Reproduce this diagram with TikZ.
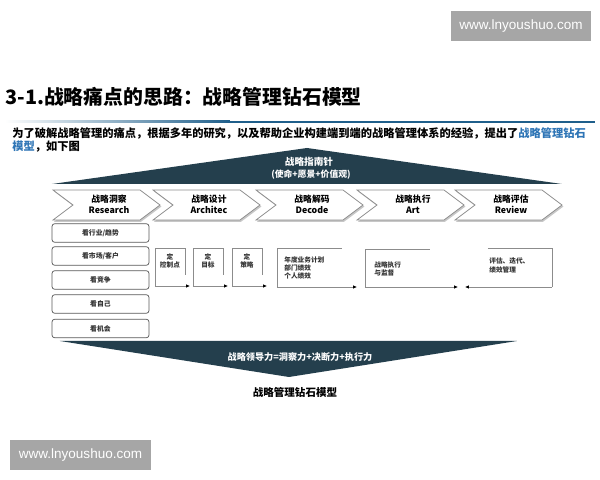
\documentclass[tikz,border=0pt]{standalone}
\usepackage{fontspec}
\setmainfont{Noto Sans CJK SC}
\newfontfamily\wmfont{Liberation Sans}
\usetikzlibrary{arrows.meta}
\usetikzlibrary{positioning}
\definecolor{diamonddark}{HTML}{243F4D}
\definecolor{titleblue}{HTML}{1F5F8B}
\definecolor{linkblue}{HTML}{2E75B6}
\definecolor{boxgray}{HTML}{8C8C8C}
\tikzset{
watermark/.style={fill=black!35,text=white,font=\wmfont\fontsize{7.7}{9}\selectfont,minimum width=2.82cm,minimum height=0.62cm,inner sep=0pt},
band/.style={fill=diamonddark,draw=none},
bandtext/.style={text=white,font=\bfseries\fontsize{5.5}{6.5}\selectfont,inner sep=0pt},
stage/.style={fill=white,draw=boxgray,line width=0.4pt},
stageshadow/.style={fill=black!22,draw=none},
stagetext/.style={font=\bfseries\fontsize{5}{6.2}\selectfont,align=center,inner sep=0pt},
lookbox/.style={draw=black!65,rounded corners=1.5pt,fill=white,minimum width=1.94cm,minimum height=0.37cm,inner sep=0pt,font=\bfseries\fontsize{3.9}{4.5}\selectfont,text=black!80},
stepline/.style={draw=boxgray,line width=0.5pt},
steparrow/.style={stepline,-{Latex[black,length=2.2pt,width=2pt]}},
steptext/.style={font=\bfseries\fontsize{3.8}{4.6}\selectfont,inner sep=0pt,text=black!80}
}

\begin{document}
\begin{tikzpicture}[x=0.02cm,y=-0.02cm]
    \useasboundingbox (0,0) rectangle (600,480);
    \fill[white] (0,0) rectangle (600,480);
    % watermarks
    \node[watermark](wm-top) at (521,26) {www.lnyoushuo.com};
    \node[watermark](wm-bottom) at (80.5,455) {www.lnyoushuo.com};
    %
    \node[anchor=west,inner sep=0pt,font=\bfseries\fontsize{11.3}{13}\selectfont](title) at (5,97) {3-1.战略痛点的思路：战略管理钻石模型};
    \shade[left color=white,right color=titleblue] (5,120.8) rectangle (230,122.6);
    \fill[titleblue] (230,120.8) rectangle (595,122.6);
    \node[anchor=west,inner sep=0pt,font=\bfseries\fontsize{6.4}{8}\selectfont](intro1) at (12,133)
      {为了破解战略管理的痛点，根据多年的研究，以及帮助企业构建端到端的战略管理体系的经验，提出了\textcolor{linkblue}{战略管理钻石}};
    \node[anchor=west,inner sep=0pt,font=\bfseries\fontsize{6.4}{8}\selectfont](intro2) at (12,147)
      {\textcolor{linkblue}{模型}，如下图};
    %
    % top band
    \fill[band] (52,184) -- (307,148) -- (562,184) -- cycle;
    \node[bandtext](compass) at (309,162) {战略指南针};
    \node[bandtext,font=\bfseries\fontsize{5}{6}\selectfont](compass-sub) at (311,175) {(使命+愿景+价值观)};
    %
    % stages
    \foreach \s/\cn/\en [count=\i] in {53/战略洞察/Research,153/战略设计/Architec,256/战略解码/Decode,357/战略执行/Art,455/战略评估/Review}
    {
      \fill[stageshadow] ({\s+1},191.5) -- ({\s+88},191.5) -- ({\s+108.5},206.5) -- ({\s+88},221.8) -- ({\s+1},221.8) -- ({\s+21},206.5) -- cycle;
      \draw[stage] (\s,190) -- ({\s+87},190) -- ({\s+107},205) -- ({\s+87},220) -- (\s,220) -- ({\s+20},205) -- cycle;
      \node[stagetext](stage\i) at ({\s+56},204) {\cn\\\en};
    }
    %
    % look boxes
    \foreach \y/\t [count=\i] in {233/{看行业/趋势},256/{看市场/客户},280/看竞争,304/看自己,328.5/看机会}
      \node[lookbox](look\i) at (100.5,\y) {\t};
    %
    % small steps
    \foreach \l/\r/\t [count=\i] in {155/185/控制点,193/223/目标,232/262/策略}
    {
      \draw[stepline] (\r,275) -- (\r,248) -- (\l,248) -- (\l,286);
      \draw[steparrow] (\l,286) -- ({\r+5},286);
      \node[steptext,align=center](fix\i) at ({(\l+\r)/2},261) {定\\\t};
    }
    \draw[stepline] (342,248) -- (277,248) -- (277,287);
    \draw[steparrow] (277,287) -- (357,287);
    \node[steptext,align=left,anchor=west](plan) at (284,268) {年度业务计划\\部门绩效\\个人绩效};
    \draw[stepline] (430,249) -- (365,249) -- (365,287);
    \draw[steparrow] (365,287) -- (458,287);
    \node[steptext,align=left,anchor=west](exec) at (374,268.5) {战略执行\\与监督};
    \draw[stepline] (488,248) -- (552,248) -- (552,287);
    \draw[steparrow] (552,287) -- (465,287);
    \node[steptext,align=left,anchor=west](review) at (489,265.5) {评估、迭代、\\绩效管理};
    %
    % bottom band
    \fill[band] (60,341) -- (517,341) -- (289,377) -- cycle;
    \node[bandtext,font=\bfseries\fontsize{5.2}{6}\selectfont](lead) at (300,357) {战略领导力=洞察力+决断力+执行力};
    \node[inner sep=0pt,font=\bfseries\fontsize{6}{7}\selectfont](caption) at (295,392) {战略管理钻石模型};
\end{tikzpicture}
\end{document}
